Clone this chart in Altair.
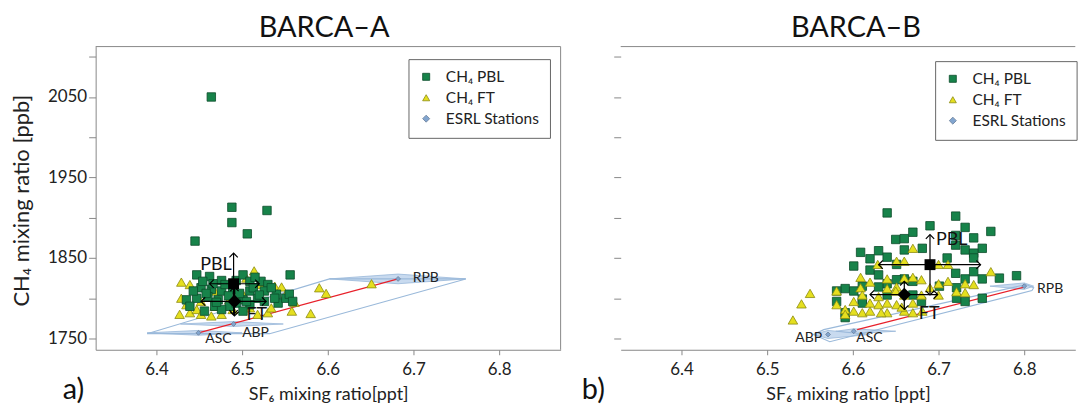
import altair as alt
import pandas as pd

FONT = "Lato"
SERIES = ["CH₄ PBL", "CH₄ FT", "ESRL Stations"]
FILLS = ["#17834a", "#e5df1f", "#82a5cf"]
STROKES = ["#0c4d2b", "#8c8a10", "#6a7f99"]
SHAPES = ["square", "triangle-up", "diamond"]
CHEVRON = "M-1,-1L0,0L-1,1"

# ---------------- BARCA-A ----------------
pbl_a_x = [6.464, 6.488, 6.529, 6.488, 6.506, 6.445, 6.556,
           6.447, 6.462, 6.476, 6.493, 6.501, 6.509, 6.522, 6.530,
           6.452, 6.464, 6.476, 6.489, 6.509, 6.526,
           6.435, 6.447, 6.460, 6.472, 6.501, 6.518,
           6.439, 6.468, 6.485, 6.509, 6.542, 6.551, 6.555, 6.540,
           6.456, 6.476, 6.493, 6.505, 6.526, 6.534, 6.443, 6.480,
           6.454, 6.513, 6.501, 6.559, 6.466, 6.497, 6.520, 6.458,
           6.484, 6.470, 6.515, 6.538]
pbl_a_y = [2050, 1913, 1909, 1894, 1880, 1871, 1829,
           1829, 1827, 1822, 1822, 1829, 1821, 1821, 1817,
           1813, 1811, 1809, 1811, 1809, 1809,
           1798, 1800, 1802, 1798, 1798, 1800,
           1790, 1790, 1790, 1792, 1794, 1800, 1805, 1805,
           1784, 1786, 1794, 1796, 1796, 1813, 1809, 1817,
           1821, 1813, 1784, 1796, 1818, 1806, 1804, 1806,
           1803, 1795, 1826, 1800]
ft_a_x = [6.429, 6.439, 6.429, 6.427, 6.439, 6.435, 6.447, 6.464, 6.476,
          6.514, 6.505, 6.538, 6.546, 6.530, 6.558, 6.561, 6.551, 6.522,
          6.452, 6.468, 6.489, 6.509, 6.468, 6.501, 6.485,
          6.590, 6.598, 6.580, 6.651, 6.518, 6.534, 6.452]
ft_a_y = [1820, 1817, 1800, 1780, 1782, 1792, 1786, 1778, 1780,
          1834, 1825, 1815, 1814, 1782, 1784, 1795, 1805, 1817,
          1796, 1790, 1786, 1788, 1809, 1805, 1798,
          1813, 1806, 1781, 1818, 1780, 1788, 1780]
stations = ["ASC", "ABP", "RPB"]
st_a_x = [6.449, 6.490, 6.682]
st_a_y = [1757, 1768, 1824]
st_a_lab_x = [6.457, 6.500, 6.699]
st_a_lab_y = [1749, 1757, 1825]
# station spread (lens) : left tip, right tip, half height
lens_a_left = [6.389, 6.428, 6.602]
lens_a_right = [6.500, 6.548, 6.761]
lens_a_half = [3, 3, 6]
frame_a_x = [6.389, 6.602, 6.761, 6.532, 6.389]
frame_a_y = [1756, 1824, 1824, 1756, 1756]
red_a_x = [6.449, 6.682]
red_a_y = [1757, 1824]
groups = ["PBL", "FT"]
mean_a_x = [6.490, 6.491]
mean_a_y = [1818, 1796]
sdx_a_lo = [6.462, 6.452]
sdx_a_hi = [6.520, 6.528]
sdy_a_lo = [1780, 1778]
sdy_a_hi = [1856, 1814]
grp_a_lab_x = [6.451, 6.505]
grp_a_lab_y = [1841, 1779]

# ---------------- BARCA-B ----------------
pbl_b_x = [6.640, 6.720, 6.690, 6.731, 6.761, 6.670, 6.650, 6.660, 6.741, 6.720,
           6.681, 6.731, 6.751, 6.741, 6.720, 6.609, 6.630, 6.620, 6.710, 6.660,
           6.640, 6.601, 6.620, 6.630, 6.651, 6.720, 6.731, 6.741, 6.751, 6.771,
           6.791, 6.660, 6.670, 6.651, 6.640, 6.611, 6.630, 6.721, 6.701, 6.591,
           6.581, 6.581, 6.601, 6.611, 6.611, 6.591, 6.591, 6.670, 6.680, 6.640,
           6.721, 6.751, 6.731, 6.741, 6.740]
pbl_b_y = [1906, 1902, 1890, 1888, 1883, 1882, 1873, 1874, 1875, 1878,
           1862, 1860, 1862, 1856, 1866, 1857, 1859, 1849, 1850, 1860,
           1851, 1840, 1835, 1829, 1842, 1831, 1824, 1833, 1824, 1825,
           1828, 1824, 1821, 1823, 1818, 1815, 1814, 1813, 1815, 1812,
           1809, 1796, 1809, 1799, 1794, 1782, 1776, 1804, 1796, 1804,
           1800, 1800, 1796, 1850, 2054]
ft_b_x = [6.530, 6.540, 6.550, 6.581, 6.581, 6.591, 6.591, 6.601, 6.601, 6.609,
          6.609, 6.611, 6.611, 6.620, 6.620, 6.620, 6.630, 6.630, 6.640, 6.640,
          6.640, 6.640, 6.651, 6.651, 6.651, 6.660, 6.660, 6.660, 6.660, 6.670,
          6.670, 6.670, 6.670, 6.680, 6.680, 6.690, 6.700, 6.700, 6.700, 6.711,
          6.711, 6.721, 6.731, 6.741, 6.731, 6.761, 6.629, 6.650, 6.681, 6.657,
          6.633]
ft_b_y = [1773, 1793, 1806, 1809, 1792, 1786, 1780, 1796, 1784, 1826,
          1813, 1804, 1782, 1820, 1794, 1784, 1802, 1792, 1824, 1812,
          1794, 1782, 1846, 1814, 1792, 1846, 1825, 1804, 1784, 1862,
          1826, 1794, 1782, 1823, 1804, 1813, 1842, 1818, 1804, 1842,
          1821, 1808, 1818, 1817, 1807, 1833, 1842, 1809, 1784, 1789,
          1782]
st_b_x = [6.601, 6.571, 6.800]
st_b_y = [1759, 1755, 1815]
st_b_lab_x = [6.604, 6.564, 6.815]
st_b_lab_y = [1750, 1750, 1812]
st_b_align = ["left", "right", "left"]
lens_b_left = [6.580, 6.554, 6.760]
lens_b_right = [6.650, 6.620, 6.811]
lens_b_half = [3, 5, 4]
frame_b_x = [6.554, 6.566, 6.802, 6.811, 6.809, 6.573, 6.554]
frame_b_y = [1755, 1761, 1817, 1813, 1809.5, 1746, 1755]
red_b_x = [6.605, 6.799]
red_b_y = [1761, 1813.6]
mean_b_x = [6.690, 6.660]
mean_b_y = [1841.7, 1804.5]
sdx_b_lo = [6.630, 6.620]
sdx_b_hi = [6.749, 6.699]
sdy_b_lo = [1804, 1786]
sdy_b_hi = [1879, 1821]
grp_b_lab_x = [6.697, 6.677]
grp_b_lab_y = [1872, 1780]

H = 304.3
YDOM = [1736, 2112.6]
YTICKS = list(range(1750, 2101, 50))
XTICKS = [6.4, 6.5, 6.6, 6.7, 6.8]


def panel(title, tag, width, xdom, xtitle, pbl_x, pbl_y, ft_x, ft_y,
          st_x, st_y, lab_x, lab_y, lab_align, lens_l, lens_r, lens_h,
          fr_x, fr_y, red_x, red_y, m_x, m_y, sx_lo, sx_hi, sy_lo, sy_hi,
          g_x, g_y, left_panel, legend_xy, pbl_first, title_shift):
    xs = alt.Scale(domain=xdom, nice=False, zero=False)
    ys = alt.Scale(domain=YDOM, nice=False, zero=False)
    xaxis = alt.Axis(values=XTICKS, format=".1f", grid=False, domainColor="#888",
                     tickColor="#888", tickSize=5, labelFontSize=17, labelColor="#222",
                     labelPadding=7, title=xtitle, titleFontSize=18, titleFontWeight="normal",
                     titleColor="#222", titleX=width / 2, titleY=50, titleAlign="center",
                     titleBaseline="alphabetic", labelFlush=False)
    if left_panel:
        yaxis = alt.Axis(values=YTICKS, format="d",
                         labelExpr="datum.value % 100 == 50 ? datum.label : ''",
                         grid=False, domainColor="#888", tickColor="#888", tickSize=7,
                         labelFontSize=17, labelColor="#222", labelPadding=2,
                         title="CH₄ mixing ratio [ppb]", titleFontSize=22,
                         titleFontWeight="normal", titleColor="#222", titleX=-74, titleY=H / 2 + 2,
                         titleAngle=270, titleAlign="center", titleBaseline="middle")
    else:
        yaxis = alt.Axis(values=YTICKS, labels=False, domain=False, grid=False,
                         tickColor="#888", tickSize=7, title=None)
    X = lambda f="x": alt.X(f"{f}:Q", scale=xs, axis=xaxis)
    Y = lambda f="y": alt.Y(f"{f}:Q", scale=ys, axis=yaxis)
    Xn = lambda f: alt.X(f"{f}:Q", scale=xs)
    Yn = lambda f: alt.Y(f"{f}:Q", scale=ys)

    leg = alt.Legend(title=None, orient="none", legendX=legend_xy[0], legendY=legend_xy[1],
                     direction="vertical", strokeColor="#666", fillColor="white", padding=10,
                     labelFontSize=15.5, labelFont=FONT, labelColor="#222", symbolSize=50,
                     labelOffset=12, rowPadding=4, symbolStrokeWidth=0.8)
    enc_series = dict(
        shape=alt.Shape("series:N", scale=alt.Scale(domain=SERIES, range=SHAPES), legend=leg),
        color=alt.Color("series:N", scale=alt.Scale(domain=SERIES, range=FILLS), legend=leg),
        stroke=alt.Stroke("series:N", scale=alt.Scale(domain=SERIES, range=STROKES), legend=leg),
    )

    pbl = pd.DataFrame({"x": pbl_x, "y": pbl_y, "series": SERIES[0]})
    ft = pd.DataFrame({"x": ft_x, "y": ft_y, "series": SERIES[1]})
    st = pd.DataFrame({"x": st_x, "y": st_y, "series": SERIES[2], "name": stations,
                       "lx": lab_x, "ly": lab_y, "align": lab_align})

    lens_rows = []
    for i, n in enumerate(stations):
        lens_rows += [
            {"name": n, "x": lens_l[i], "lo": st_y[i], "hi": st_y[i]},
            {"name": n, "x": st_x[i], "lo": st_y[i] - lens_h[i], "hi": st_y[i] + lens_h[i]},
            {"name": n, "x": lens_r[i], "lo": st_y[i], "hi": st_y[i]},
        ]
    lens = pd.DataFrame(lens_rows)
    frame = pd.DataFrame({"x": fr_x, "y": fr_y, "i": list(range(len(fr_x)))})
    red = pd.DataFrame({"x": red_x, "y": red_y})

    rules = []
    heads = []
    for i, g in enumerate(groups):
        rules.append({"x": sx_lo[i], "x2": sx_hi[i], "y": m_y[i], "y2": m_y[i]})
        rules.append({"x": m_x[i], "x2": m_x[i], "y": sy_lo[i], "y2": sy_hi[i]})
        heads += [{"x": sx_lo[i], "y": m_y[i], "a": 180}, {"x": sx_hi[i], "y": m_y[i], "a": 0},
                  {"x": m_x[i], "y": sy_hi[i], "a": 270}, {"x": m_x[i], "y": sy_lo[i], "a": 90}]
    rules = pd.DataFrame(rules)
    heads = pd.DataFrame(heads)
    means = pd.DataFrame({"x": m_x, "y": m_y, "g": groups, "lx": g_x, "ly": g_y})

    d = pd.DataFrame({"x": [xdom[0]], "y": [YDOM[0]]})

    layers = []
    layers.append(alt.Chart(lens).mark_area(color="#c3d7ee", stroke="#8eb0d6",
                                            strokeWidth=0.8, opacity=0.9)
                  .encode(x=X(), y=Yn("lo"), y2="hi", detail="name:N"))
    layers.append(alt.Chart(frame).mark_line(color="#9ab9da", strokeWidth=1.1)
                  .encode(x=Xn("x"), y=Yn("y"), order="i:Q"))
    layers.append(alt.Chart(red).mark_line(color="#e8202a", strokeWidth=1.3)
                  .encode(x=Xn("x"), y=Yn("y")))
    sq = alt.Chart(pbl).mark_point(filled=True, size=72, strokeWidth=0.8, opacity=1).encode(
        x=Xn("x"), y=Y(), **enc_series)
    tri = alt.Chart(ft).mark_point(filled=True, size=92, strokeWidth=0.8, opacity=1).encode(
        x=Xn("x"), y=Yn("y"), **enc_series)
    layers += [sq, tri] if pbl_first else [tri, sq]
    layers.append(alt.Chart(st).mark_point(filled=True, size=24, strokeWidth=0.8, opacity=1)
                  .encode(x=Xn("x"), y=Yn("y"), **enc_series))
    layers.append(alt.Chart(rules).mark_rule(color="black", strokeWidth=1.2)
                  .encode(x=Xn("x"), x2="x2", y=Yn("y"), y2="y2"))
    layers.append(alt.Chart(heads).mark_point(shape=CHEVRON, filled=False, size=70,
                                              color="black", strokeWidth=1.2, opacity=1)
                  .encode(x=Xn("x"), y=Yn("y"), angle=alt.Angle("a:Q", scale=None)))
    layers.append(alt.Chart(means[means["g"] == "PBL"])
                  .mark_point(filled=True, opacity=1, color="black", shape="square", size=120)
                  .encode(x=Xn("x"), y=Yn("y")))
    layers.append(alt.Chart(means[means["g"] == "FT"])
                  .mark_point(filled=True, opacity=1, color="black", shape="diamond", size=190)
                  .encode(x=Xn("x"), y=Yn("y")))
    layers.append(alt.Chart(means).mark_text(fontSize=18, font=FONT, align="left",
                                             baseline="middle", color="#111")
                  .encode(x=Xn("lx"), y=Yn("ly"), text="g:N"))
    for al in ["left", "right"]:
        sub = st[st["align"] == al]
        if len(sub):
            layers.append(alt.Chart(sub).mark_text(fontSize=14, font=FONT, align=al,
                                                   baseline="middle", color="#222")
                          .encode(x=Xn("lx"), y=Yn("ly"), text="name:N"))
    # frame lines, title and panel tag
    layers.append(alt.Chart(d).mark_rule(color="#888", strokeWidth=1)
                  .encode(x=alt.value(0), x2=alt.value(width), y=alt.value(0)))
    if left_panel:
        layers.append(alt.Chart(d).mark_rule(color="#888", strokeWidth=1)
                      .encode(x=alt.value(width), y=alt.value(0), y2=alt.value(H)))
    layers.append(alt.Chart(d).mark_text(text=title, fontSize=29, font=FONT, align="center",
                                         baseline="alphabetic", color="#111")
                  .encode(x=alt.value(width / 2 + title_shift), y=alt.value(-9.5)))
    layers.append(alt.Chart(d).mark_text(text=tag, fontSize=29, font=FONT, align="left",
                                         baseline="alphabetic", color="#111")
                  .encode(x=alt.value(-33 if left_panel else -39), y=alt.value(353.5)))
    # invisible canvas anchors
    if left_panel:
        layers.append(alt.Chart(d).mark_point(size=1, opacity=0)
                      .encode(x=alt.value(-95), y=alt.value(-44.7)))
    else:
        layers.append(alt.Chart(d).mark_point(size=1, opacity=0)
                      .encode(x=alt.value(width), y=alt.value(361.3)))
    return alt.layer(*layers).properties(width=width, height=H)


left = panel("BARCA–A", "a)", 466.7, [6.329, 6.8717], "SF₆ mixing ratio[ppt]",
             pbl_a_x, pbl_a_y, ft_a_x, ft_a_y, st_a_x, st_a_y, st_a_lab_x, st_a_lab_y,
             ["left", "left", "left"], lens_a_left, lens_a_right, lens_a_half,
             frame_a_x, frame_a_y, red_a_x, red_a_y, mean_a_x, mean_a_y,
             sdx_a_lo, sdx_a_hi, sdy_a_lo, sdy_a_hi, grp_a_lab_x, grp_a_lab_y,
             True, (314, 12.6), False, -4)
right = panel("BARCA–B", "b)", 456.3, [6.329, 6.8596], "SF₆ mixing ratio [ppt]",
              pbl_b_x, pbl_b_y, ft_b_x, ft_b_y, st_b_x, st_b_y, st_b_lab_x, st_b_lab_y,
              st_b_align, lens_b_left, lens_b_right, lens_b_half,
              frame_b_x, frame_b_y, red_b_x, red_b_y, mean_b_x, mean_b_y,
              sdx_b_lo, sdx_b_hi, sdy_b_lo, sdy_b_hi, grp_b_lab_x, grp_b_lab_y,
              False, (315.6, 14.6), True, 8)

chart = (alt.hconcat(left, right, spacing=60, bounds="flush")
         .resolve_scale(color="independent", shape="independent", stroke="independent")
         .resolve_legend(color="independent", shape="independent", stroke="independent")
         .properties(padding=0, background="white")
         .configure_view(stroke=None)
         .configure_axis(labelFont=FONT, titleFont=FONT)
         .configure_text(font=FONT))

chart.save("out.html", embed_options={"renderer": "svg", "actions": False})
